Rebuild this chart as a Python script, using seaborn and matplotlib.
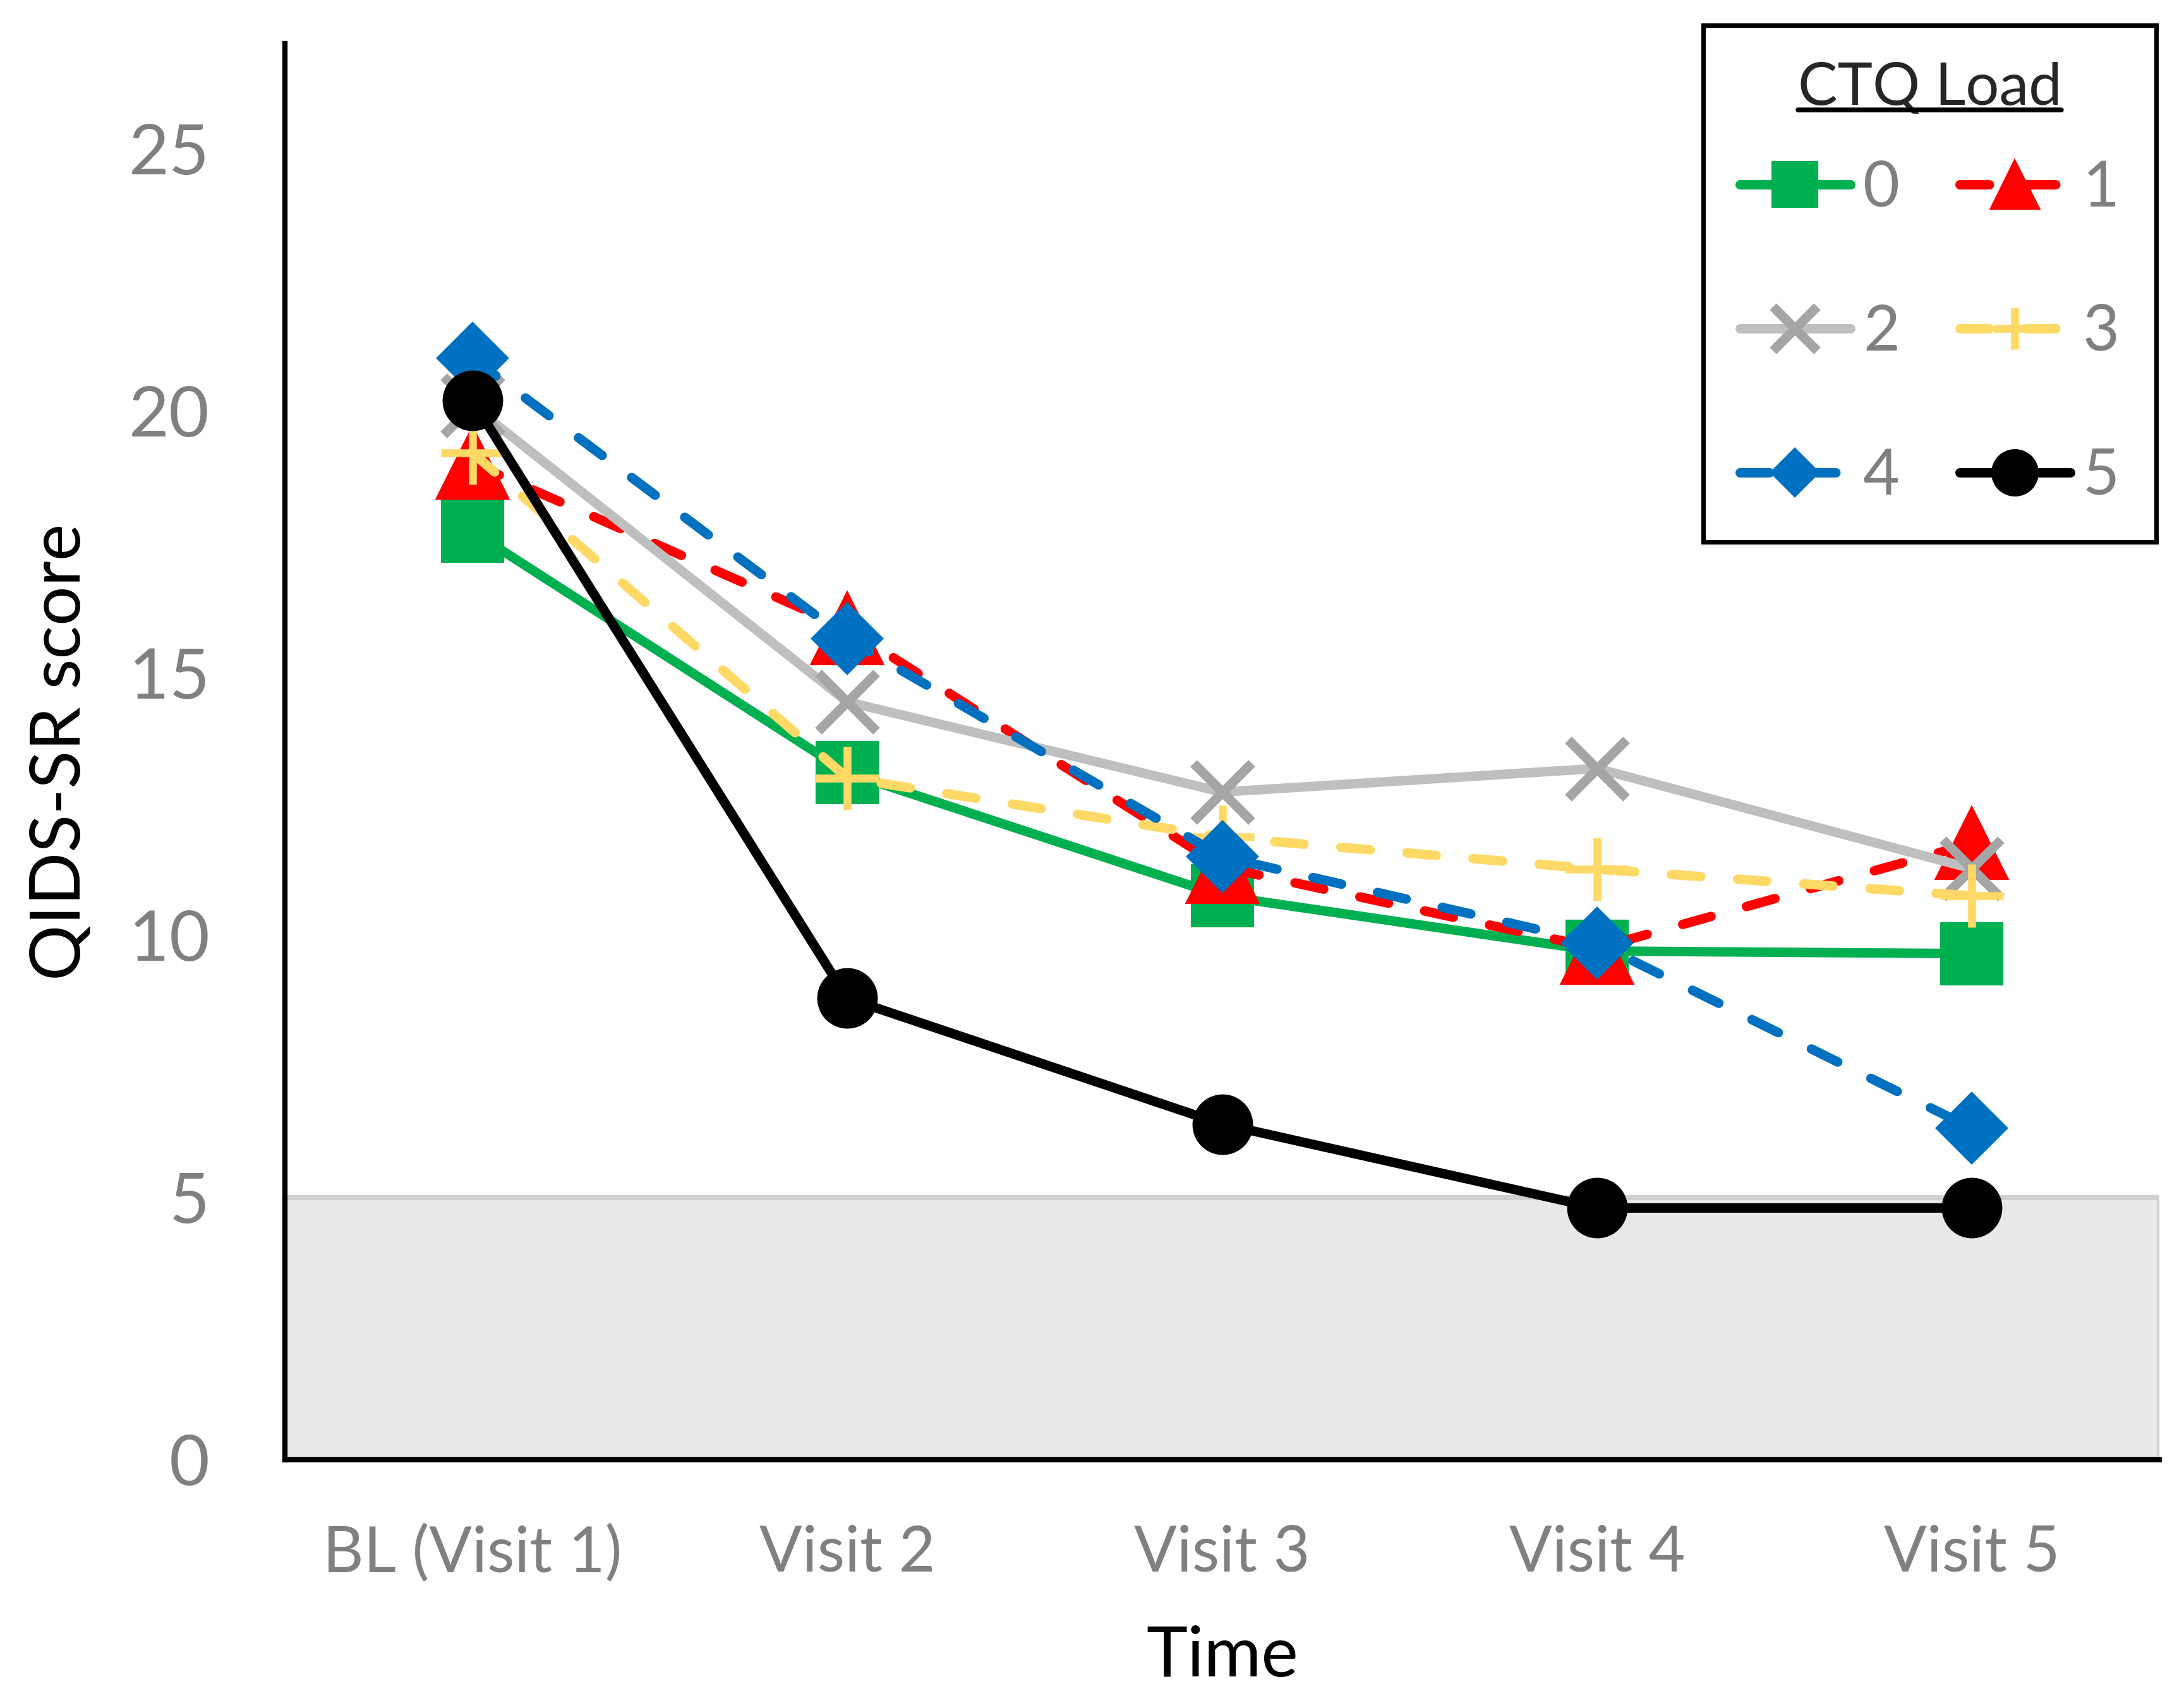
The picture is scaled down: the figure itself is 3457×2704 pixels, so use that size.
import matplotlib
matplotlib.use("Agg")
import matplotlib.pyplot as plt
from matplotlib.lines import Line2D
import pandas as pd
import seaborn as sns

# data
visits = ['BL (Visit 1)', 'Visit 2', 'Visit 3', 'Visit 4', 'Visit 5']
ctq_0 = [17.7, 13.1, 10.75, 9.7, 9.65]
ctq_1 = [19.0, 15.85, 11.3, 9.75, 11.75]
ctq_2 = [20.1, 14.45, 12.73, 13.18, 11.27]
ctq_3 = [19.2, 13.0, 11.87, 11.26, 10.75]
ctq_4 = [21.0, 15.65, 11.5, 9.85, 6.32]
ctq_5 = [20.2, 8.8, 6.4, 4.8, 4.8]
groups = ['0', '1', '2', '3', '4', '5']

sns.set_style('white')
plt.rcParams['font.family'] = ['Lato', 'DejaVu Sans']

W, H = 3457, 2704
fig = plt.figure(figsize=(W / 300, H / 300), dpi=300)
ax = fig.add_axes([451 / W, 1 - 2311 / H, (3418 - 451) / W, (2311 - 69) / H])

# remission band (QIDS-SR <= 5)
ax.axhspan(0, 5, facecolor='#E8E8E8', edgecolor='#D0D0D0', linewidth=1.9, zorder=0)

lw = 3.6
dash = (0, (3.1, 3.9))
styles = {
    '0': dict(color='#00B050', marker='s', markersize=23, mec='#00B050', linestyle='-'),
    '1': dict(color='#FF0000', marker='^', markersize=27, mec='#FF0000', linestyle=dash),
    '2': dict(color='#BFBFBF', marker='x', markersize=22, mec='#A5A5A5', mew=3.6, linestyle='-'),
    '3': dict(color='#FFD966', marker='+', markersize=24, mec='#FFD966', mew=3.0, linestyle=dash),
    '4': dict(color='#0070C0', marker='D', markersize=18.5, mec='#0070C0', linestyle=dash),
    '5': dict(color='black', marker='o', markersize=22, mec='black', linestyle='-'),
}
series = [ctq_0, ctq_1, ctq_2, ctq_3, ctq_4, ctq_5]

for g, vals in zip(groups, series):
    st = dict(styles[g])
    st.setdefault('mew', 1.0)
    df = pd.DataFrame({'visit': visits, 'score': vals})
    sns.lineplot(data=df, x='visit', y='score', ax=ax, sort=False, estimator=None,
                 linewidth=lw, dash_capstyle='round', solid_capstyle='round',
                 **st)

ax.set_xlim(-0.5, 4.5)
ax.set_ylim(0, 27)
ax.set_yticks([0, 5, 10, 15, 20, 25])
ax.set_xticks(range(len(visits)))
ax.set_xticklabels(visits)
ax.set_xticks([4.5], minor=True)

for s in ['top', 'right']:
    ax.spines[s].set_visible(False)
for s in ['left', 'bottom']:
    ax.spines[s].set_linewidth(2.0)
    ax.spines[s].set_color('black')

ax.tick_params(axis='both', which='both', direction='out', length=9.6, width=1.8, color='black')
ax.tick_params(axis='y', labelsize=26.5, labelcolor='#808080', pad=19)
ax.tick_params(axis='x', labelsize=24, labelcolor='#808080', pad=15)

ax.set_xlabel('Time', fontsize=26.5, color='black')
ax.set_ylabel('QIDS-SR score', fontsize=26.5, color='black')
ax.xaxis.set_label_coords(0.5, -0.117)
ax.yaxis.set_label_coords(-0.103, 0.5)

# legend with smaller markers, row-wise order 0 1 / 2 3 / 4 5
leg_ms = {'0': 17, '1': 18, '2': 17, '3': 16, '4': 12.5, '5': 17}
handles = {}
for g in groups:
    st = dict(styles[g])
    st['markersize'] = leg_ms[g]
    st.setdefault('mew', 1.0)
    handles[g] = Line2D([], [], linewidth=lw, dash_capstyle='round', solid_capstyle='round', **st)
order = ['0', '2', '4', '1', '3', '5']
leg = ax.legend([handles[g] for g in order], order, ncol=2,
                title='CTQ Load', title_fontsize=22.5,
                fontsize=24, labelcolor='#808080',
                loc='upper right', bbox_to_anchor=(3413 / W, 1 - 40 / H),
                bbox_transform=fig.transFigure,
                handlelength=1.75, handletextpad=0.2, columnspacing=0.95,
                labelspacing=1.37, borderpad=0.58, borderaxespad=0,
                frameon=True, fancybox=False, framealpha=1.0)
leg.get_frame().set_edgecolor('black')
leg.get_frame().set_linewidth(1.7)
# tighter gap between the title and the first row
leg._legend_box.sep = 17

# underline the legend title
fig.canvas.draw()
tb = leg.get_title().get_window_extent().transformed(fig.transFigure.inverted())
uy = tb.y0 + 0.1 * tb.height
fig.add_artist(Line2D([tb.x0, tb.x1], [uy, uy], transform=fig.transFigure,
                      color='black', linewidth=1.8))

fig.savefig('out.png', dpi=300, facecolor='white')
